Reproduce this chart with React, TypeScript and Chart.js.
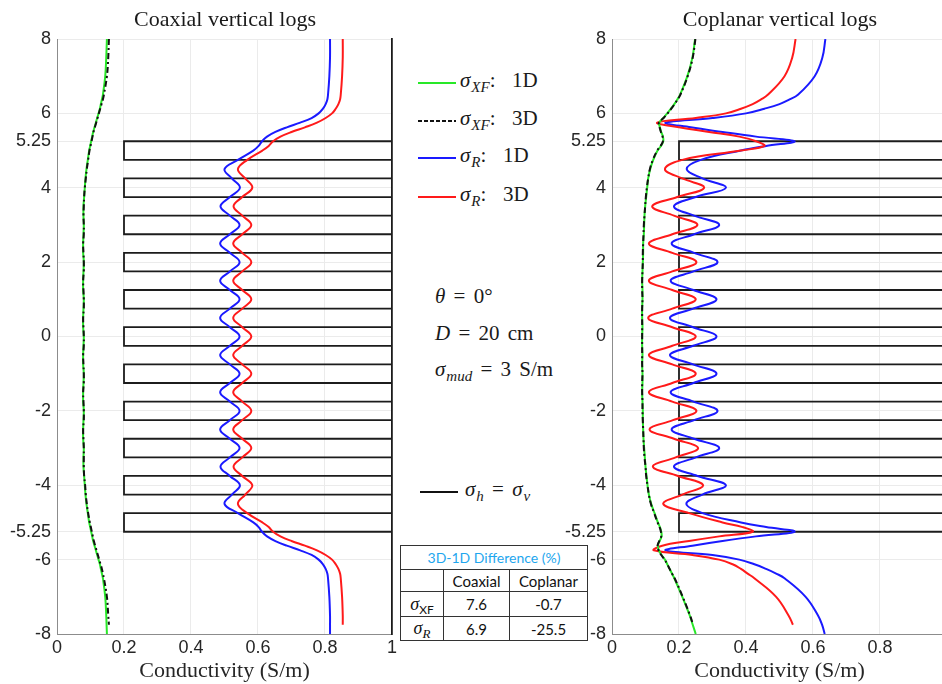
import React, { useEffect, useRef } from "react";
import { Chart, registerables } from "chart.js";
Chart.register(...registerables);

// ---------------- data ----------------
// depth grid (m), shared by every log curve
const DEPTH = [
  8, 7.5, 7, 6.5, 6.375, 6.25, 6.125, 6, 5.875, 5.75, 5.625, 5.5, 5.375, 5.25, 5.125, 5,
  4.75, 4.5, 4.25, 4, 3.75, 3.5, 3.25, 3, 2.75, 2.5, 2.25, 2, 1.75, 1.5, 1.25, 1,
  0.75, 0.5, 0.25, 0, -0.25, -0.5, -0.75, -1, -1.25, -1.5, -1.75, -2, -2.25, -2.5, -2.75, -3,
  -3.25, -3.5, -3.75, -4, -4.25, -4.5, -4.75,
  -5, -5.125, -5.25, -5.375, -5.5, -5.625, -5.75, -5.875, -6, -6.125, -6.25, -6.375, -6.5,
  -7, -7.5, -7.75, -8,
];

const Y_TICKS = [8, 6, 5.25, 4, 2, 0, -2, -4, -5.25, -6, -8];
const X_TICK_STEP = 0.2;

// formation model: thin layers between 5.25 and -5.25 m
const LAYER_BOUNDS = [5.25, 4.75, 4.25, 3.75, 3.25, 2.75, 2.25, 1.75, 1.25, 0.75, 0.25, -0.25, -0.75, -1.25, -1.75, -2.25, -2.75, -3.25, -3.75, -4.25, -4.75, -5.25];
const LAYER_SIGMA = [0.2, 1, 0.2, 1, 0.2, 1, 0.2, 1, 0.2, 1, 0.2, 1, 0.2, 1, 0.2, 1, 0.2, 1, 0.2, 1, 0.2];
const HOST_SIGMA = 1;

// ---- Coaxial ----
const COAX_XF_1D = [
  0.149, 0.147, 0.144, 0.137, 0.134, 0.131, 0.128, 0.124, 0.120, 0.116, 0.112, 0.108, 0.105, 0.102, 0.099, 0.096,
  0.092, 0.088, 0.085, 0.083, 0.081, 0.079, 0.079, 0.080, 0.079, 0.078, 0.078, 0.080, 0.079, 0.078, 0.078, 0.080,
  0.079, 0.078, 0.078, 0.080, 0.079, 0.078, 0.078, 0.080, 0.079, 0.078, 0.078, 0.080, 0.079, 0.078, 0.078, 0.080,
  0.079, 0.079, 0.081, 0.083, 0.085, 0.088, 0.092,
  0.096, 0.099, 0.102, 0.105, 0.108, 0.112, 0.116, 0.120, 0.124, 0.128, 0.131, 0.134, 0.137,
  0.144, 0.147, 0.148, 0.149,
];
const COAX_XF_3D = [
  0.155, 0.153, 0.149, 0.140, 0.137, 0.133, 0.129, 0.125, 0.121, 0.117, 0.113, 0.109, 0.106, 0.103, 0.100, 0.097,
  0.093, 0.089, 0.086, 0.083, 0.081, 0.080, 0.079, 0.080, 0.080, 0.078, 0.079, 0.080, 0.080, 0.078, 0.079, 0.080,
  0.080, 0.078, 0.079, 0.080, 0.080, 0.078, 0.079, 0.080, 0.080, 0.078, 0.079, 0.080, 0.080, 0.078, 0.079, 0.080,
  0.080, 0.080, 0.081, 0.084, 0.086, 0.089, 0.093,
  0.098, 0.101, 0.104, 0.107, 0.110, 0.114, 0.118, 0.122, 0.126, 0.130, 0.134, 0.137, 0.140,
  0.149, 0.153, 0.155, null,
];
const COAX_R_1D = [
  0.815, 0.815, 0.813, 0.809, 0.807, 0.802, 0.794, 0.781, 0.760, 0.726, 0.686, 0.652, 0.627, 0.612, 0.602, 0.586,
  0.540, 0.500, 0.522, 0.546, 0.516, 0.488, 0.516, 0.545, 0.516, 0.487, 0.516, 0.545, 0.516, 0.487, 0.516, 0.545,
  0.516, 0.487, 0.516, 0.545, 0.516, 0.487, 0.516, 0.545, 0.516, 0.487, 0.516, 0.545, 0.516, 0.487, 0.516, 0.545,
  0.516, 0.488, 0.516, 0.546, 0.522, 0.500, 0.540,
  0.586, 0.602, 0.612, 0.627, 0.652, 0.686, 0.726, 0.760, 0.781, 0.794, 0.802, 0.807, 0.809,
  0.813, 0.815, 0.815, 0.815,
];
const COAX_R_3D = [
  0.853, 0.853, 0.851, 0.847, 0.845, 0.840, 0.832, 0.821, 0.802, 0.776, 0.740, 0.700, 0.667, 0.645, 0.632, 0.613,
  0.568, 0.540, 0.562, 0.583, 0.553, 0.527, 0.553, 0.580, 0.553, 0.526, 0.553, 0.580, 0.553, 0.526, 0.553, 0.580,
  0.553, 0.526, 0.553, 0.580, 0.553, 0.526, 0.553, 0.580, 0.553, 0.526, 0.553, 0.580, 0.553, 0.526, 0.553, 0.580,
  0.553, 0.527, 0.553, 0.583, 0.562, 0.540, 0.568,
  0.613, 0.632, 0.645, 0.667, 0.700, 0.740, 0.776, 0.802, 0.821, 0.832, 0.840, 0.845, 0.847,
  0.851, 0.853, 0.853, null,
];

// ---- Coplanar ----
const COPL_XF_1D = [
  0.248, 0.240, 0.225, 0.203, 0.195, 0.186, 0.176, 0.165, 0.153, 0.141, 0.143, 0.147, 0.152, 0.153, 0.146, 0.136,
  0.123, 0.114, 0.108, 0.105, 0.102, 0.099, 0.097, 0.096, 0.095, 0.093, 0.093, 0.092, 0.091, 0.090, 0.091, 0.091,
  0.090, 0.090, 0.091, 0.090, 0.090, 0.091, 0.090, 0.091, 0.091, 0.090, 0.091, 0.092, 0.092, 0.093, 0.094, 0.096,
  0.098, 0.100, 0.103, 0.106, 0.110, 0.117, 0.127,
  0.137, 0.143, 0.147, 0.148, 0.142, 0.137, 0.140, 0.148, 0.158, 0.165, 0.172, 0.179, 0.186,
  0.210, 0.232, 0.241, 0.250,
];
const COPL_XF_3D = [
  0.249, 0.241, 0.226, 0.204, 0.196, 0.187, 0.177, 0.166, 0.154, 0.140, 0.142, 0.146, 0.151, 0.152, 0.145, 0.135,
  0.122, 0.113, 0.108, 0.104, 0.101, 0.099, 0.097, 0.095, 0.094, 0.093, 0.092, 0.092, 0.091, 0.090, 0.090, 0.091,
  0.090, 0.090, 0.090, 0.090, 0.090, 0.090, 0.090, 0.091, 0.090, 0.090, 0.091, 0.091, 0.092, 0.093, 0.094, 0.095,
  0.097, 0.100, 0.102, 0.106, 0.110, 0.116, 0.126,
  0.136, 0.142, 0.146, 0.147, 0.141, 0.136, 0.139, 0.147, 0.157, 0.165, 0.172, 0.179, 0.187,
  0.211, 0.233, 0.242, null,
];
const COPL_R_1D = [
  0.637, 0.628, 0.605, 0.555, 0.530, 0.500, 0.455, 0.400, 0.300, 0.160, 0.235, 0.330, 0.430, 0.545, 0.460, 0.385,
  0.265, 0.223, 0.270, 0.340, 0.250, 0.185, 0.245, 0.320, 0.245, 0.178, 0.245, 0.315, 0.243, 0.175, 0.243, 0.312,
  0.242, 0.173, 0.242, 0.312, 0.242, 0.173, 0.242, 0.312, 0.243, 0.175, 0.243, 0.315, 0.245, 0.178, 0.245, 0.320,
  0.250, 0.185, 0.255, 0.340, 0.270, 0.222, 0.270,
  0.385, 0.460, 0.545, 0.430, 0.330, 0.240, 0.160, 0.300, 0.380, 0.425, 0.460, 0.490, 0.515,
  0.578, 0.615, 0.627, 0.635,
];
const COPL_R_3D = [
  0.548, 0.538, 0.515, 0.465, 0.445, 0.420, 0.385, 0.340, 0.250, 0.135, 0.200, 0.290, 0.380, 0.430, 0.455, 0.385,
  0.210, 0.158, 0.210, 0.275, 0.195, 0.120, 0.185, 0.255, 0.180, 0.110, 0.180, 0.252, 0.180, 0.110, 0.180, 0.250,
  0.180, 0.108, 0.180, 0.250, 0.180, 0.110, 0.180, 0.250, 0.180, 0.110, 0.180, 0.252, 0.182, 0.112, 0.185, 0.257,
  0.190, 0.122, 0.197, 0.272, 0.210, 0.153, 0.230,
  0.330, 0.390, 0.420, 0.320, 0.230, 0.150, 0.125, 0.240, 0.320, 0.360, 0.385, 0.405, 0.425,
  0.490, 0.527, 0.540, null,
];

// table
const TABLE_TITLE = "3D-1D Difference (%)";
const TABLE_COLS = ["Coaxial", "Coplanar"];
const TABLE_XF = ["7.6", "-0.7"];
const TABLE_R = ["6.9", "-25.5"];

// ---------------- styling ----------------
const GREEN = "rgb(40,232,40)";
const BLUE = "#1a1aff";
const RED = "#ff1a1a";
const BLACK = "#111";
const DASHDOT = [6, 3, 2, 3];

function toPoints(values: (number | null)[]) {
  const pts: { x: number; y: number }[] = [];
  values.forEach((v, i) => {
    if (v != null) pts.push({ x: v, y: DEPTH[i] });
  });
  return pts;
}

function formationPoints() {
  const pts: { x: number; y: number }[] = [];
  pts.push({ x: HOST_SIGMA, y: 8 });
  pts.push({ x: HOST_SIGMA, y: LAYER_BOUNDS[0] });
  for (let i = 0; i < LAYER_SIGMA.length; i++) {
    pts.push({ x: LAYER_SIGMA[i], y: LAYER_BOUNDS[i] });
    pts.push({ x: LAYER_SIGMA[i], y: LAYER_BOUNDS[i + 1] });
  }
  pts.push({ x: HOST_SIGMA, y: LAYER_BOUNDS[LAYER_BOUNDS.length - 1] });
  pts.push({ x: HOST_SIGMA, y: -8 });
  return pts;
}

const TICK_FONT = { family: "'Liberation Sans', Arial, sans-serif", size: 18 };

function LogChart(props: { left: number; xf1d: any[]; xf3d: any[]; r1d: any[]; r3d: any[] }) {
  const ref = useRef<HTMLCanvasElement | null>(null);
  useEffect(() => {
    const curve = (data: any[], color: string, dash?: number[]) => ({
      data: toPoints(data),
      showLine: true,
      borderColor: color,
      backgroundColor: color,
      borderWidth: 2,
      borderDash: dash || [],
      pointRadius: 0,
      tension: 0.4,
      fill: false,
    });
    const chart = new Chart(ref.current as HTMLCanvasElement, {
      type: "scatter",
      data: {
        datasets: [
          curve(props.xf3d, BLACK, DASHDOT),
          curve(props.xf1d, GREEN),
          curve(props.r3d, RED),
          curve(props.r1d, BLUE),
          {
            data: formationPoints(),
            showLine: true,
            borderColor: "#1c1c1c",
            borderWidth: 1.8,
            pointRadius: 0,
            tension: 0,
            fill: false,
          } as any,
        ],
      },
      options: {
        animation: false,
        responsive: false,
        maintainAspectRatio: false,
        events: [],
        layout: { padding: { top: 39, right: 7, left: 0, bottom: 0 } },
        plugins: { legend: { display: false }, tooltip: { enabled: false }, title: { display: false } },
        scales: {
          x: {
            type: "linear",
            position: "bottom",
            min: 0,
            max: 1,
            ticks: {
              stepSize: X_TICK_STEP,
              padding: 3,
              color: "#262626",
              font: TICK_FONT,
              maxRotation: 0,
              autoSkip: false,
              callback: (v: any) => String(Math.round(Number(v) * 10) / 10),
            },
            grid: { color: "#ebebeb", drawTicks: false, lineWidth: 1 },
            border: { display: true, color: "#8c8c8c", width: 1 },
            title: {
              display: true,
              text: "Conductivity (S/m)",
              color: "#262626",
              font: { family: "'Liberation Serif', serif", size: 22 },
              padding: { top: 0, bottom: 0 },
            },
            afterFit: (s: any) => {
              s.height = 50;
            },
          },
          y: {
            type: "linear",
            position: "left",
            min: -8,
            max: 8,
            afterBuildTicks: (s: any) => {
              s.ticks = Y_TICKS.map((v) => ({ value: v }));
            },
            ticks: {
              padding: 6,
              color: "#262626",
              font: TICK_FONT,
              autoSkip: false,
              callback: (v: any) => String(v),
            },
            grid: { color: "#ebebeb", drawTicks: false, lineWidth: 1 },
            border: { display: true, color: "#8c8c8c", width: 1 },
            afterFit: (s: any) => {
              s.width = 57;
            },
          },
          yr: {
            type: "linear",
            position: "right",
            min: -8,
            max: 8,
            ticks: { display: false },
            grid: { display: false, drawTicks: false },
            border: { display: true, color: "#1c1c1c", width: 1.8 },
            afterFit: (s: any) => {
              s.width = 0;
            },
          },
        },
      } as any,
    });
    return () => chart.destroy();
  }, []);
  return (
    <canvas
      ref={ref}
      width={400}
      height={684}
      style={{ position: "absolute", left: props.left, top: 0, width: 400, height: 684 }}
    />
  );
}

const SERIF = "'Liberation Serif', 'Times New Roman', serif";

function Sub(props: { children: any; italic?: boolean; size?: number }) {
  return (
    <span
      style={{
        fontSize: props.size || 15,
        fontStyle: props.italic === false ? "normal" : "italic",
        position: "relative",
        top: 5,
        marginLeft: 1,
        wordSpacing: 0,
      }}
    >
      {props.children}
    </span>
  );
}

function LegendLine(props: { x: number; y: number; color: string; dash?: number[] }) {
  return (
    <svg
      width={44}
      height={6}
      style={{ position: "absolute", left: props.x, top: props.y - 3, overflow: "visible" }}
    >
      <line
        x1={0}
        y1={3}
        x2={38}
        y2={3}
        stroke={props.color}
        strokeWidth={2}
        strokeDasharray={props.dash ? props.dash.join(" ") : undefined}
      />
    </svg>
  );
}

const LEGEND_ROWS = [
  { y: 83, color: GREEN, dash: undefined as number[] | undefined, sub: "XF", label: "1D" },
  { y: 120.5, color: BLACK, dash: [4, 2], sub: "XF", label: "3D" },
  { y: 158, color: BLUE, dash: undefined, sub: "R", label: "1D" },
  { y: 196.5, color: RED, dash: undefined, sub: "R", label: "3D" },
];

export default function App() {
  const textStyle = (top: number, left: number) =>
    ({
      position: "absolute",
      left,
      top,
      font: `21px ${SERIF}`,
      color: "#1a1a1a",
      whiteSpace: "nowrap",
      lineHeight: "24px",
      wordSpacing: 3,
    } as React.CSSProperties);

  const cell: React.CSSProperties = {
    border: "1px solid #333",
    padding: 0,
    textAlign: "center",
    verticalAlign: "middle",
    font: "15px Lato, 'Liberation Sans', sans-serif",
    color: "#111",
  };

  return (
    <div
      style={{
        position: "fixed",
        left: 0,
        top: 0,
        width: 942,
        height: 684,
        overflow: "hidden",
        background: "#fff",
      }}
    >
      <LogChart left={0} xf1d={COAX_XF_1D} xf3d={COAX_XF_3D} r1d={COAX_R_1D} r3d={COAX_R_3D} />
      <LogChart left={555} xf1d={COPL_XF_1D} xf3d={COPL_XF_3D} r1d={COPL_R_1D} r3d={COPL_R_3D} />

      <div style={{ ...textStyle(6, 105), width: 240, textAlign: "center", font: `22px ${SERIF}`, lineHeight: "26px", wordSpacing: 0 }}>
        Coaxial vertical logs
      </div>
      <div style={{ ...textStyle(6, 660), width: 240, textAlign: "center", font: `22px ${SERIF}`, lineHeight: "26px", wordSpacing: 0 }}>
        Coplanar vertical logs
      </div>

      {LEGEND_ROWS.map((r, i) => (
        <React.Fragment key={i}>
          <LegendLine x={418} y={r.y} color={r.color} dash={r.dash} />
          <div style={textStyle(r.y - 15, 460)}>
            <i>σ</i>
            <Sub>{r.sub}</Sub>
            <span>:&nbsp;&nbsp;{r.label}</span>
          </div>
        </React.Fragment>
      ))}

      <div style={textStyle(284, 435)}>
        <i>θ</i> = 0°
      </div>
      <div style={textStyle(321, 435)}>
        <i>D</i> = 20 cm
      </div>
      <div style={textStyle(357, 435)}>
        <i>σ</i>
        <Sub>mud</Sub> = 3 S/m
      </div>

      <LegendLine x={420} y={492} color={BLACK} />
      <div style={textStyle(477, 465)}>
        <i>σ</i>
        <Sub>h</Sub> = <i>σ</i>
        <Sub>v</Sub>
      </div>

      <table
        style={{
          position: "absolute",
          left: 400,
          top: 545,
          width: 187,
          height: 95,
          borderCollapse: "collapse",
          background: "#fff",
          tableLayout: "fixed",
        }}
      >
        <colgroup>
          <col style={{ width: 43 }} />
          <col style={{ width: 66 }} />
          <col style={{ width: 78 }} />
        </colgroup>
        <tbody>
          <tr style={{ height: 24 }}>
            <td colSpan={3} style={{ ...cell, fontSize: 14, color: "#1ea6ee" }}>
              {TABLE_TITLE}
            </td>
          </tr>
          <tr style={{ height: 22 }}>
            <td style={cell}></td>
            <td style={cell}>{TABLE_COLS[0]}</td>
            <td style={cell}>{TABLE_COLS[1]}</td>
          </tr>
          <tr style={{ height: 25 }}>
            <td style={cell}>
              <span style={{ font: `italic 18px ${SERIF}` }}>σ</span>
              <span style={{ fontSize: 12, position: "relative", top: 4 }}>XF</span>
            </td>
            <td style={cell}>{TABLE_XF[0]}</td>
            <td style={cell}>{TABLE_XF[1]}</td>
          </tr>
          <tr style={{ height: 24 }}>
            <td style={cell}>
              <span style={{ font: `italic 18px ${SERIF}` }}>σ</span>
              <span style={{ font: `italic 13px ${SERIF}`, position: "relative", top: 4 }}>R</span>
            </td>
            <td style={cell}>{TABLE_R[0]}</td>
            <td style={cell}>{TABLE_R[1]}</td>
          </tr>
        </tbody>
      </table>
    </div>
  );
}
